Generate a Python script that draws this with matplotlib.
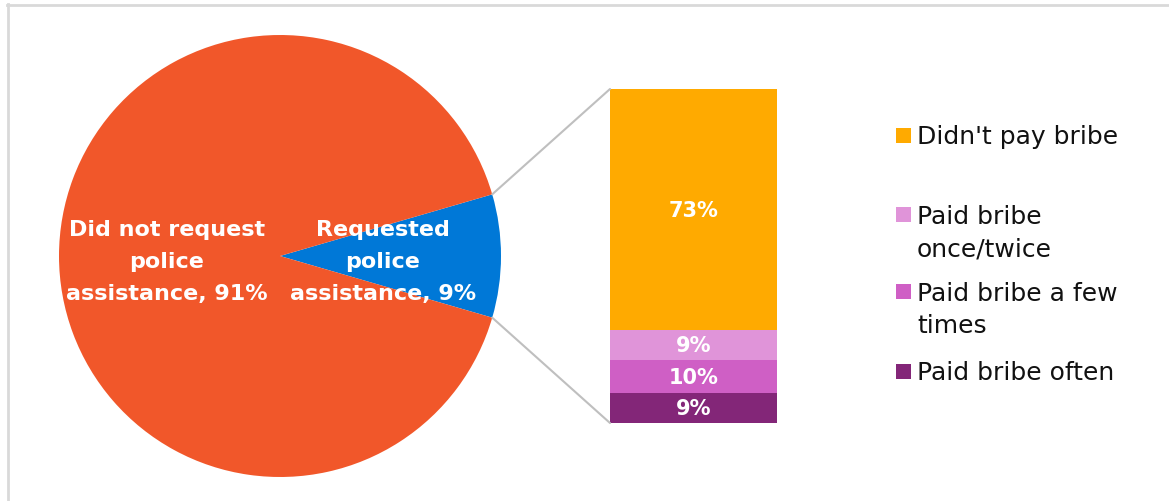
import numpy as np
import matplotlib
matplotlib.use("Agg")
import matplotlib.pyplot as plt
from matplotlib.patches import ConnectionPatch, Rectangle
from matplotlib.lines import Line2D

# Pie: who asked the police for help
pie_labels = ["Requested\npolice\nassistance", "Did not request\npolice\nassistance"]
pie_values = [9, 91]
pie_colors = ["#0078D7", "#F1572A"]

# Bar: bribery among those who requested assistance (stacked bottom -> top)
bar_labels = ["Paid bribe often", "Paid bribe a few\ntimes", "Paid bribe\nonce/twice", "Didn't pay bribe"]
bar_values = [9, 10, 9, 73]
bar_colors = ["#832678", "#CF5FC5", "#E094D9", "#FFAA00"]

FONT = ["DejaVu Sans"]
plt.rcParams["font.family"] = FONT

W, H = 1169, 502
fig = plt.figure(figsize=(W / 100, H / 100), dpi=100)
fig.patch.set_facecolor("white")


def fx(px):
    return px / W


def fy(py):
    return 1 - py / H


# Chart frame (top and left edges)
frame_kw = dict(color="#D9D9D9", lw=2, transform=fig.transFigure)
fig.add_artist(Line2D([fx(7), fx(W + 2)], [fy(5.5), fy(5.5)], **frame_kw))
fig.add_artist(Line2D([fx(7.5), fx(7.5)], [fy(5), fy(H + 2)], **frame_kw))

# ---- Pie ----
cx, cy, r = 280, 257, 221
ax_pie = fig.add_axes([fx(cx - r), fy(cy + r), fx(2 * r), (2 * r) / H])
half = pie_values[0] / sum(pie_values) * 360 / 2
wedges, _ = ax_pie.pie(pie_values, colors=pie_colors, startangle=-half,
                       counterclock=True, radius=1,
                       wedgeprops=dict(linewidth=0))
ax_pie.set_xlim(-1, 1)
ax_pie.set_ylim(-1, 1)
ax_pie.set_aspect("equal")
ax_pie.axis("off")

# labels: baseline of the last line sits at y = 300 px
label_x = [(383 - cx) / r, (167 - cx) / r]
label_y = (cy - 300) / r
for lbl, val, x in zip(pie_labels, pie_values, label_x):
    ax_pie.text(x, label_y, f"{lbl}, {val}%", ha="center", va="baseline",
                color="white", fontsize=16, fontweight="bold",
                linespacing=1.75)

# ---- Stacked bar ----
bx0, bx1, by0, by1 = 610, 777, 90, 424
ax_bar = fig.add_axes([fx(bx0), fy(by1), fx(bx1 - bx0), (by1 - by0) / H])
total = sum(bar_values)
bottoms = np.concatenate([[0], np.cumsum(bar_values)[:-1]])
for v, b, c in zip(bar_values, bottoms, bar_colors):
    ax_bar.bar(0, v, bottom=b, width=1, color=c, linewidth=0)
    ax_bar.text(0, b + v / 2, f"{v}%", ha="center", va="center",
                color="white", fontsize=15, fontweight="bold")
ax_bar.set_xlim(-0.5, 0.5)
ax_bar.set_ylim(0, total)
ax_bar.axis("off")

# Connector lines from the small wedge to the bar
ang = np.deg2rad(half)
for sgn, yb in [(1, total), (-1, 0)]:
    con = ConnectionPatch(xyA=(np.cos(ang), sgn * np.sin(ang)), coordsA=ax_pie.transData,
                          xyB=(-0.5, yb), coordsB=ax_bar.transData,
                          color="#BFBFBF", lw=1.5)
    fig.add_artist(con)

# ---- Legend (top -> bottom), first-line baselines in px ----
legend_base = [144, 223, 300, 380]
line_step = 33.5
for lbl, c, yb in zip(bar_labels[::-1], bar_colors[::-1], legend_base):
    fig.add_artist(Rectangle((fx(896), fy(yb)), fx(15), 15 / H,
                             transform=fig.transFigure, color=c, lw=0))
    last = yb + line_step * lbl.count("\n")
    fig.text(fx(917), fy(last), lbl, ha="left", va="baseline", fontsize=18,
             color="#111111", linespacing=1.45,
             transform=fig.transFigure)

fig.savefig("out.png", dpi=100, facecolor="white")
